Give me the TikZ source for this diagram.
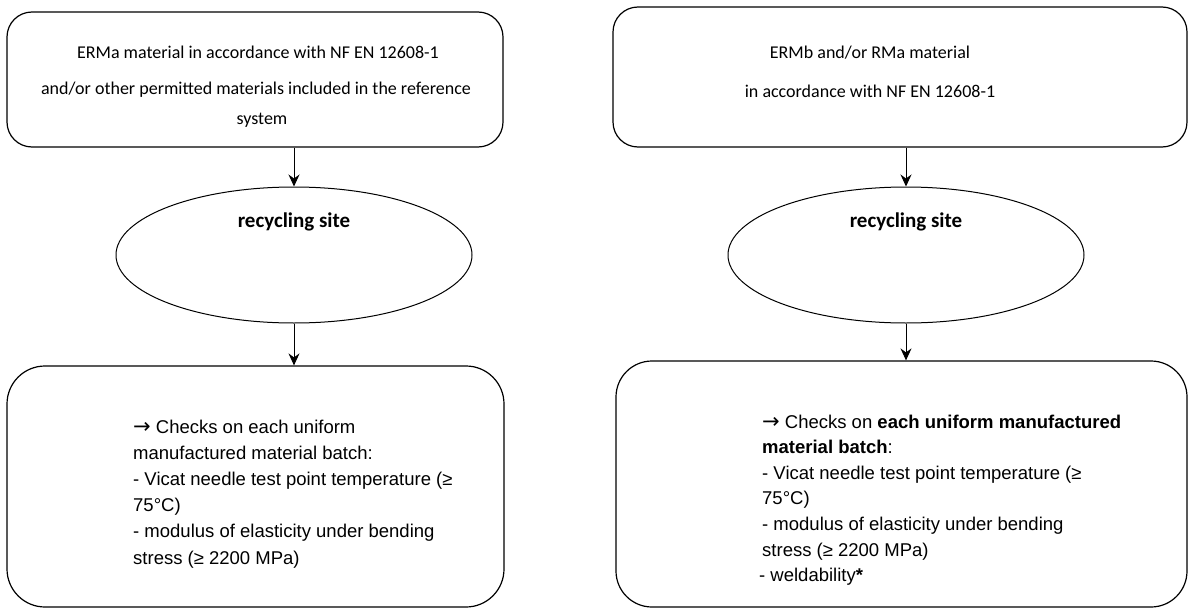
\documentclass[tikz,border=0pt]{standalone}
\usepackage{fontspec}
\setmainfont{Carlito}
\newfontfamily\checkfont{Liberation Sans}
\newfontfamily\arrowfont{DejaVu Sans}
\usetikzlibrary{shapes.geometric,arrows.meta}
\newcommand{\checkarrow}{{\arrowfont\fontsize{21}{21}\selectfont →}}

\begin{document}
\begin{tikzpicture}[x=1pt,y=-1pt,
  stagebox/.style={draw, line width=1.2pt, inner sep=0pt, rounded corners=#1},
  sitenode/.style={draw, ellipse, line width=1pt, inner sep=0pt,
    minimum width=356pt, minimum height=136pt},
  headtext/.style={inner sep=0pt, font=\fontsize{18}{21}\selectfont},
  sitetext/.style={inner sep=0pt, font=\fontsize{21}{24}\selectfont\bfseries},
  checktext/.style={inner sep=0pt, anchor=north west, align=left},
  flow/.style={-{Stealth[length=12pt,width=11pt,inset=4pt]}, line width=1pt}]

\useasboundingbox (0,0) rectangle (1189,610);
\fill[white] (0,0) rectangle (1189,610);

% source boxes
\node[stagebox=25pt, minimum width=496pt, minimum height=135pt] (srcA) at (255,79.5) {};
\node[stagebox=25pt, minimum width=574pt, minimum height=140pt] (srcB) at (900,77) {};

\node[headtext] (srcAl1) at (258,52) {ERMa material in accordance with NF EN 12608-1};
\node[headtext] (srcAl2) at (256,90) {and/or other permitted materials included in the reference};
\node[headtext] (srcAl3) at (262,120) {system};

\node[headtext] (srcBl1) at (870,53) {ERMb and/or RMa material};
\node[headtext] (srcBl2) at (870,91) {in accordance with NF EN 12608-1};

% recycling sites
\node[sitenode] (siteA) at (294,255) {};
\node[sitenode] (siteB) at (906,255) {};
\node[sitetext] (siteAt) at (294,222) {recycling site};
\node[sitetext] (siteBt) at (906,222) {recycling site};

% check boxes
\node[stagebox=38pt, minimum width=497pt, minimum height=241pt] (chkA) at (255.5,486.5) {};
\node[stagebox=36pt, minimum width=571pt, minimum height=246pt] (chkB) at (901.5,484) {};

\node[checktext, font=\checkfont\fontsize{18.5}{26.2}\selectfont] (chkAt) at (133,419.5)
  {\checkarrow\ Checks on each uniform\\
   manufactured material batch:\\
   - Vicat needle test point temperature (≥\\
   75°C)\\
   - modulus of elasticity under bending\\
   stress (≥ 2200 MPa)};

\node[checktext, font=\checkfont\fontsize{18.5}{25.6}\selectfont] (chkBt) at (762,414.5)
  {\checkarrow\ Checks on \textbf{each uniform manufactured}\\
   \textbf{material batch}:\\
   - Vicat needle test point temperature (≥\\
   75°C)\\
   - modulus of elasticity under bending\\
   stress (≥ 2200 MPa)\\
   \hspace*{-3pt}- weldability\textbf{*}};

% connectors
\draw[flow] (siteA.north |- srcA.south) -- (siteA.north);
\draw[flow] (siteB.north |- srcB.south) -- (siteB.north);
\draw[flow] (siteA.south) -- (siteA.south |- chkA.north);
\draw[flow] (siteB.south) -- (siteB.south |- chkB.north);
\end{tikzpicture}
\end{document}
